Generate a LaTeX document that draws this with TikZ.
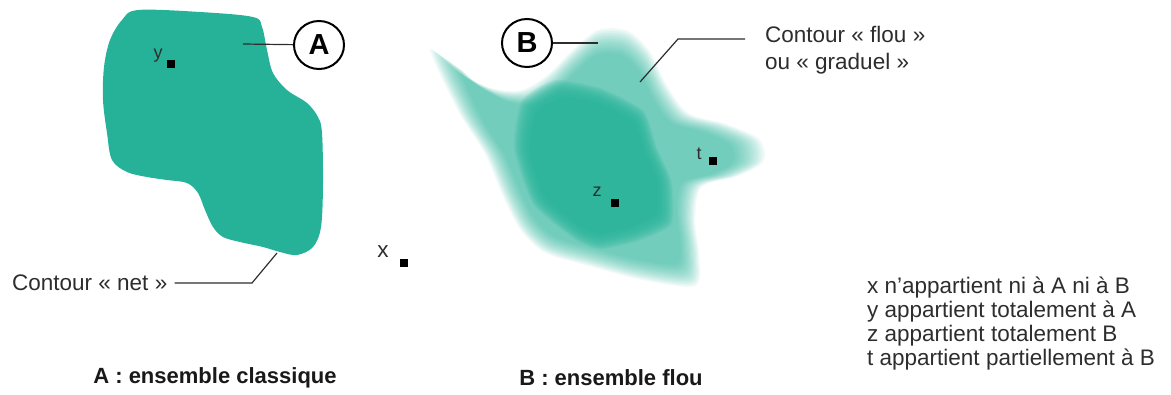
\documentclass[tikz,border=0pt]{standalone}
\usepackage{fontspec}
\setmainfont{Liberation Sans}
\usetikzlibrary{shapes.geometric}
\definecolor{tealA}{RGB}{38,178,152}
\definecolor{ink}{RGB}{45,45,45}
\begin{document}
\begin{tikzpicture}[x=1pt,y=-1pt,
  lbl/.style={font=\fontsize{22.5}{24}\selectfont, text=ink, inner sep=0pt},
  small/.style={font=\fontsize{18}{20}\selectfont, text=ink, inner sep=0pt},
  caption/.style={font=\bfseries\fontsize{22}{26}\selectfont, text=black!90, inner sep=0pt},
  circ/.style={ellipse, draw=black, line width=2pt, minimum width=50pt, minimum height=48pt, inner sep=0pt, font=\bfseries\fontsize{29}{30}\selectfont},
  leader/.style={draw=ink, line width=1.2pt},
  pt/.style={rectangle, fill=black, minimum size=8pt, inner sep=0pt}
]
\useasboundingbox (0,0) rectangle (1171,394);

% ---- Set A (crisp) ----
\fill[tealA] plot[smooth cycle, tension=0.55] coordinates {
 (138,10) (200,12) (253,17) (262,27) (267,50) (273,73) (287,90) (307,103)
 (318,117) (322,133) (323,183) (321,227) (313,247) (297,255) (280,252)
 (263,247) (240,242) (223,237) (213,227) (205,210) (198,193) (187,183)
 (167,180) (147,177) (127,172) (112,160) (107,133) (103,100) (104,67)
 (110,40) (122,20)};

% ---- Set B (fuzzy) ----
\foreach \s in {1.10,1.0875,...,0.89} {
 \fill[tealA, opacity=0.058, scale around={\s:(595,165)}] plot[smooth cycle, tension=0.5] coordinates {
 (445,60) (470,80) (500,95) (528,97) (552,83) (575,60) (598,42) (625,43)
 (645,62) (660,92) (680,118) (715,128) (745,142) (748,162) (725,175)
 (692,185) (686,215) (690,250) (686,275) (640,270) (590,257) (550,245)
 (528,225) (512,195) (495,155) (470,115)};
}
\foreach \s in {1.13,1.115,...,0.89} {
 \fill[tealA, opacity=0.12, scale around={\s:(595,168)}] plot[smooth cycle, tension=0.35] coordinates {
 (530,108) (560,90) (600,97) (638,117) (650,150) (663,180) (663,218)
 (633,233) (600,240) (578,232) (540,200) (523,150)};
}

% ---- points ----
\node[pt] (yp) at (171,64) {};
\node[small] (ylab) at (158,56) {y};
\node[pt] (xp) at (404,263) {};
\node[lbl] (xlab) at (383,252) {x};
\node[pt] (zp) at (615,203) {};
\node[small] (zlab) at (597,192) {z};
\node[pt] (tp) at (713,161) {};
\node[small] (tlab) at (699,154) {t};

% ---- circles and leaders ----
\node[circ] (cA) at (319,45) {A};
\coordinate (aIn) at (243,44);
\draw[leader] (aIn) -- (cA);

\node[circ] (cB) at (527,43) {B};
\coordinate (bIn) at (598,43);
\draw[leader] (cB) -- (bIn);

\node[lbl, anchor=west] (net) at (12,283) {Contour « net »};
\coordinate (n2) at (252,283);
\coordinate (n3) at (277,253);
\draw[leader] ([xshift=7pt]net.east) -- (n2) -- (n3);

\node[lbl, anchor=north west, align=left, font=\fontsize{22.5}{27}\selectfont] (flou) at (765,26) {Contour « flou »\\ou « graduel »};
\coordinate (f1) at (640,82);
\coordinate (f2) at (678,39);
\coordinate (f3) at (745,39);
\draw[leader] (f1) -- (f2) -- (f3);

\node[lbl, anchor=north west, align=left] (list) at (867,277) {x n'appartient ni à A ni à B\\y appartient totalement à A\\z appartient totalement B\\t appartient partiellement à B};

\node[caption] (capA) at (215,378) {A : ensemble classique};
\node[caption] (capB) at (611,378) {B : ensemble flou};
\end{tikzpicture}
\end{document}
